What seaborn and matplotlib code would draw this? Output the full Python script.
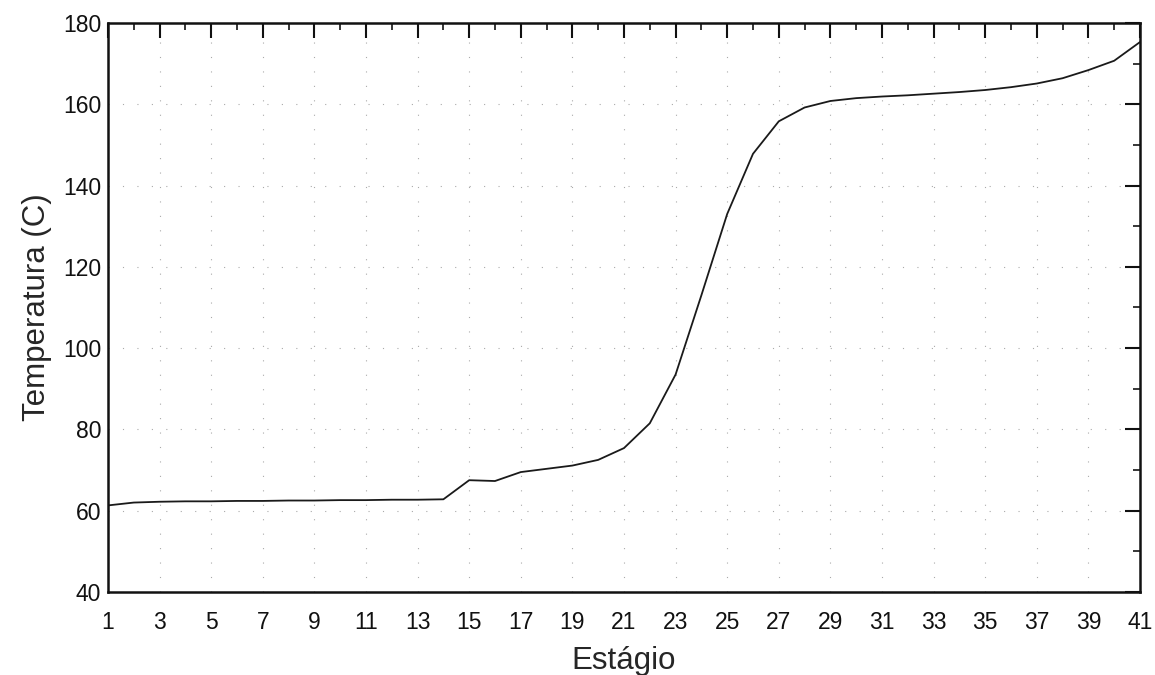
import numpy as np
import pandas as pd
import seaborn as sns
import matplotlib.pyplot as plt
from matplotlib.ticker import MultipleLocator

estagio = list(range(1, 42))
temperatura = [61.3, 62.0, 62.2, 62.3, 62.3, 62.4, 62.4, 62.5, 62.5, 62.6,
               62.6, 62.7, 62.7, 62.8, 67.5, 67.3, 69.5, 70.3, 71.1, 72.5,
               75.4, 81.5, 93.5, 113.0, 133.0, 147.8, 155.8, 159.2, 160.8, 161.5,
               161.9, 162.2, 162.6, 163.0, 163.5, 164.2, 165.1, 166.4, 168.4, 170.7,
               175.3]
xticks = list(range(1, 42, 2))

df = pd.DataFrame({'Estagio': estagio, 'Temperatura': temperatura})

sns.set_style('white')
plt.rcParams['font.family'] = ['Liberation Sans', 'DejaVu Sans']

fig = plt.figure(figsize=(11.55, 6.75), dpi=100)
ax = fig.add_axes([0.0935, 0.123, 0.8935, 0.843])
sns.lineplot(data=df, x='Estagio', y='Temperatura', color='#1a1a1a', linewidth=1.3, ax=ax)

ax.set_xlim(1, 41)
ax.set_ylim(40, 180)
ax.set_xticks(xticks)
ax.xaxis.set_minor_locator(MultipleLocator(1))
ax.yaxis.set_major_locator(MultipleLocator(20))
ax.yaxis.set_minor_locator(MultipleLocator(10))
ax.tick_params(which='major', direction='in', length=11, width=1.5,
               top=True, right=True, labelsize=16.5, pad=5, colors='#111111')
ax.tick_params(axis='x', which='major', pad=14)
ax.tick_params(which='minor', direction='in', length=5, width=1.3,
               top=True, right=True)
ax.grid(True, which='major', color='#aaaaaa', linestyle=(0, (1, 12)), linewidth=0.8)
for s in ax.spines.values():
    s.set_linewidth(1.8)
    s.set_color('#111111')

ax.set_xlabel('Estágio', fontsize=22.5, labelpad=8)
ax.set_ylabel('Temperatura (C)', fontsize=22.5, labelpad=8)

fig.savefig('out.png', dpi=100)
